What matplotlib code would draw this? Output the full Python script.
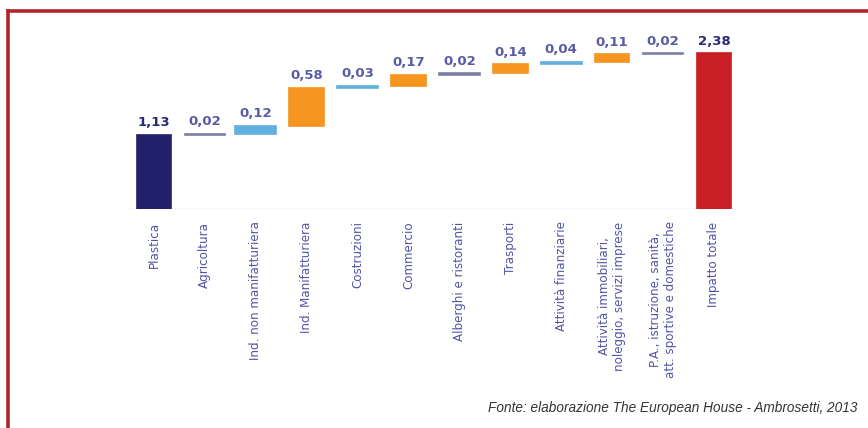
import matplotlib
matplotlib.use("Agg")
import matplotlib.pyplot as plt
from matplotlib.lines import Line2D
import numpy as np

# Contributions to total impact (waterfall)
categories = [
    "Plastica",
    "Agricoltura",
    "Ind. non manifatturiera",
    "Ind. Manifatturiera",
    "Costruzioni",
    "Commercio",
    "Alberghi e ristoranti",
    "Trasporti",
    "Attività finanziarie",
    "Attività immobiliari,\nnoleggio, servizi imprese",
    "P.A., istruzione, sanità,\natt. sportive e domestiche",
    "Impatto totale",
]
values = [1.13, 0.02, 0.12, 0.58, 0.03, 0.17, 0.02, 0.14, 0.04, 0.11, 0.02, 2.38]
value_labels = ["1,13", "0,02", "0,12", "0,58", "0,03", "0,17", "0,02",
                "0,14", "0,04", "0,11", "0,02", "2,38"]
bar_kinds = ["start", "grey", "blue", "orange", "blue", "orange", "grey",
             "orange", "blue", "orange", "grey", "total"]

palette = {
    "start": "#23206b",
    "grey": "#7c80a4",
    "blue": "#5fb0de",
    "orange": "#f5941f",
    "total": "#c81e24",
}

W, H = 868, 428
fig = plt.figure(figsize=(W / 100, H / 100), dpi=100)
fig.patch.set_facecolor("white")

# Frame lines along the top and left edges
fig.add_artist(Line2D([8 / W, 1.0], [1 - 11 / H, 1 - 11 / H],
                      transform=fig.transFigure, color="#b0242a", lw=2.6))
fig.add_artist(Line2D([8 / W, 8 / W], [0.0, 1 - 11 / H],
                      transform=fig.transFigure, color="#b0242a", lw=2.6))

# Axes placement in pixels: x step ~50.9 px, y scale ~65.5 px per unit
step = 50.9
x0_px = 154 - 0.5 * step
x1_px = x0_px + 12 * step
base_px = H - 209
ymax = 2.6
top_px = base_px + ymax * 65.5
ax = fig.add_axes([x0_px / W, base_px / H, (x1_px - x0_px) / W, (top_px - base_px) / H])
ax.set_xlim(-0.5, 11.5)
ax.set_ylim(0, ymax)
ax.axis("off")

x = np.arange(len(categories))
bottoms = []
running = 0.0
for i, (v, k) in enumerate(zip(values, bar_kinds)):
    if k in ("start", "total"):
        bottoms.append(0.0)
        running = v if k == "start" else running
    else:
        bottoms.append(running)
        running += v

for i, (v, b, k) in enumerate(zip(values, bottoms, bar_kinds)):
    w = 0.68 if k in ("start", "total", "orange") else 0.8
    ax.bar(x[i], v, bottom=b, width=w, color=palette[k],
           edgecolor=palette[k], linewidth=1.2, zorder=3)
    bold = k in ("start", "total")
    ax.annotate(value_labels[i], (x[i], b + v), xytext=(0, 4),
                textcoords="offset points", ha="center", va="bottom",
                fontsize=9.5, fontweight="bold",
                color="#262a78" if bold else "#5a5ca4", zorder=4)

# Faint baseline
ax.plot([-0.5, 11.5], [0, 0], color="#e2e2ea", lw=1.0, zorder=1)

# Rotated category labels under the baseline
for i, c in enumerate(categories):
    ax.annotate(c, (x[i], 0), xytext=(0, -9), textcoords="offset points",
                rotation=90, ha="center", va="top", fontsize=8.6,
                color="#5254a6", linespacing=1.15)

fig.text(858 / W, 1 - 412 / H,
         "Fonte: elaborazione The European House - Ambrosetti, 2013",
         ha="right", va="baseline", fontsize=9.8, style="italic",
         color="#333333", fontfamily="Liberation Sans")

fig.savefig("out.png", dpi=100, facecolor="white")
